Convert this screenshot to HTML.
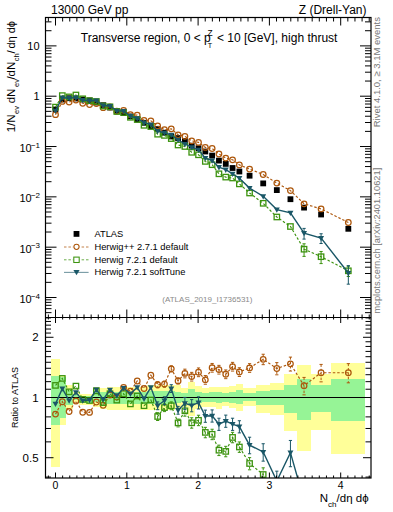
<!DOCTYPE html><html><head><meta charset="utf-8"><style>html,body{margin:0;padding:0;background:#fff;}svg{display:block;font-family:"Liberation Sans",sans-serif;}</style></head><body><svg width="393" height="512" viewBox="0 0 393 512"><defs><clipPath id="cm"><rect x="45.5" y="17.5" width="325.5" height="300"/></clipPath><clipPath id="cr"><rect x="45.5" y="317.5" width="325.5" height="160.5"/></clipPath></defs><rect width="393" height="512" fill="#fff"/><rect x="51.07" y="359.00" width="8.51" height="108.00" fill="#ffff99" shape-rendering="crispEdges"/><rect x="59.59" y="376.00" width="6.13" height="48.70" fill="#ffff99" shape-rendering="crispEdges"/><rect x="65.71" y="385.10" width="6.81" height="24.20" fill="#ffff99" shape-rendering="crispEdges"/><rect x="72.52" y="392.00" width="6.81" height="10.00" fill="#ffff99" shape-rendering="crispEdges"/><rect x="79.33" y="394.00" width="6.81" height="10.80" fill="#ffff99" shape-rendering="crispEdges"/><rect x="86.14" y="394.00" width="6.81" height="10.80" fill="#ffff99" shape-rendering="crispEdges"/><rect x="92.95" y="387.00" width="6.81" height="20.40" fill="#ffff99" shape-rendering="crispEdges"/><rect x="99.76" y="388.00" width="6.81" height="21.30" fill="#ffff99" shape-rendering="crispEdges"/><rect x="106.57" y="387.00" width="6.81" height="22.90" fill="#ffff99" shape-rendering="crispEdges"/><rect x="113.38" y="386.70" width="6.81" height="23.60" fill="#ffff99" shape-rendering="crispEdges"/><rect x="120.19" y="386.70" width="6.81" height="23.60" fill="#ffff99" shape-rendering="crispEdges"/><rect x="127.00" y="386.70" width="6.81" height="23.60" fill="#ffff99" shape-rendering="crispEdges"/><rect x="133.81" y="386.70" width="6.81" height="23.60" fill="#ffff99" shape-rendering="crispEdges"/><rect x="140.62" y="386.70" width="6.81" height="23.60" fill="#ffff99" shape-rendering="crispEdges"/><rect x="147.43" y="384.50" width="6.81" height="25.00" fill="#ffff99" shape-rendering="crispEdges"/><rect x="154.24" y="384.50" width="6.81" height="25.00" fill="#ffff99" shape-rendering="crispEdges"/><rect x="161.05" y="384.50" width="6.81" height="25.00" fill="#ffff99" shape-rendering="crispEdges"/><rect x="167.86" y="384.50" width="6.81" height="25.00" fill="#ffff99" shape-rendering="crispEdges"/><rect x="174.67" y="385.30" width="6.81" height="22.40" fill="#ffff99" shape-rendering="crispEdges"/><rect x="181.48" y="387.60" width="6.81" height="19.10" fill="#ffff99" shape-rendering="crispEdges"/><rect x="188.29" y="381.90" width="6.81" height="34.40" fill="#ffff99" shape-rendering="crispEdges"/><rect x="195.10" y="385.70" width="6.81" height="22.90" fill="#ffff99" shape-rendering="crispEdges"/><rect x="201.91" y="387.60" width="6.81" height="19.10" fill="#ffff99" shape-rendering="crispEdges"/><rect x="208.72" y="386.70" width="6.81" height="20.00" fill="#ffff99" shape-rendering="crispEdges"/><rect x="215.53" y="386.70" width="6.81" height="21.90" fill="#ffff99" shape-rendering="crispEdges"/><rect x="222.34" y="386.70" width="6.81" height="19.10" fill="#ffff99" shape-rendering="crispEdges"/><rect x="229.15" y="385.70" width="6.81" height="22.60" fill="#ffff99" shape-rendering="crispEdges"/><rect x="235.96" y="383.80" width="6.81" height="26.70" fill="#ffff99" shape-rendering="crispEdges"/><rect x="242.77" y="387.60" width="13.62" height="18.20" fill="#ffff99" shape-rendering="crispEdges"/><rect x="256.39" y="385.10" width="13.62" height="27.60" fill="#ffff99" shape-rendering="crispEdges"/><rect x="270.01" y="383.20" width="13.62" height="31.50" fill="#ffff99" shape-rendering="crispEdges"/><rect x="283.63" y="374.30" width="13.62" height="56.30" fill="#ffff99" shape-rendering="crispEdges"/><rect x="297.25" y="365.10" width="13.62" height="85.60" fill="#ffff99" shape-rendering="crispEdges"/><rect x="310.87" y="374.40" width="20.43" height="55.40" fill="#ffff99" shape-rendering="crispEdges"/><rect x="331.30" y="363.20" width="34.05" height="90.30" fill="#ffff99" shape-rendering="crispEdges"/><rect x="51.07" y="376.30" width="8.51" height="48.80" fill="#96f496" shape-rendering="crispEdges"/><rect x="59.59" y="377.00" width="6.13" height="41.00" fill="#96f496" shape-rendering="crispEdges"/><rect x="65.71" y="389.50" width="6.81" height="15.90" fill="#96f496" shape-rendering="crispEdges"/><rect x="72.52" y="394.00" width="6.81" height="6.00" fill="#96f496" shape-rendering="crispEdges"/><rect x="79.33" y="395.90" width="6.81" height="7.00" fill="#96f496" shape-rendering="crispEdges"/><rect x="86.14" y="395.90" width="6.81" height="7.00" fill="#96f496" shape-rendering="crispEdges"/><rect x="92.95" y="392.00" width="6.81" height="10.30" fill="#96f496" shape-rendering="crispEdges"/><rect x="99.76" y="392.00" width="6.81" height="12.80" fill="#96f496" shape-rendering="crispEdges"/><rect x="106.57" y="390.80" width="6.81" height="12.70" fill="#96f496" shape-rendering="crispEdges"/><rect x="113.38" y="392.40" width="6.81" height="11.50" fill="#96f496" shape-rendering="crispEdges"/><rect x="120.19" y="392.40" width="6.81" height="11.50" fill="#96f496" shape-rendering="crispEdges"/><rect x="127.00" y="392.40" width="6.81" height="11.50" fill="#96f496" shape-rendering="crispEdges"/><rect x="133.81" y="392.40" width="6.81" height="11.50" fill="#96f496" shape-rendering="crispEdges"/><rect x="140.62" y="392.40" width="6.81" height="11.50" fill="#96f496" shape-rendering="crispEdges"/><rect x="147.43" y="390.50" width="6.81" height="13.00" fill="#96f496" shape-rendering="crispEdges"/><rect x="154.24" y="390.50" width="6.81" height="13.00" fill="#96f496" shape-rendering="crispEdges"/><rect x="161.05" y="390.50" width="6.81" height="13.00" fill="#96f496" shape-rendering="crispEdges"/><rect x="167.86" y="390.50" width="6.81" height="13.00" fill="#96f496" shape-rendering="crispEdges"/><rect x="174.67" y="391.50" width="6.81" height="11.40" fill="#96f496" shape-rendering="crispEdges"/><rect x="181.48" y="393.40" width="6.81" height="8.60" fill="#96f496" shape-rendering="crispEdges"/><rect x="188.29" y="388.60" width="6.81" height="15.30" fill="#96f496" shape-rendering="crispEdges"/><rect x="195.10" y="391.50" width="6.81" height="11.40" fill="#96f496" shape-rendering="crispEdges"/><rect x="201.91" y="393.40" width="6.81" height="8.60" fill="#96f496" shape-rendering="crispEdges"/><rect x="208.72" y="392.40" width="6.81" height="9.60" fill="#96f496" shape-rendering="crispEdges"/><rect x="215.53" y="392.20" width="6.81" height="10.70" fill="#96f496" shape-rendering="crispEdges"/><rect x="222.34" y="393.00" width="6.81" height="9.00" fill="#96f496" shape-rendering="crispEdges"/><rect x="229.15" y="391.80" width="6.81" height="11.10" fill="#96f496" shape-rendering="crispEdges"/><rect x="235.96" y="389.50" width="6.81" height="14.40" fill="#96f496" shape-rendering="crispEdges"/><rect x="242.77" y="393.40" width="13.62" height="7.60" fill="#96f496" shape-rendering="crispEdges"/><rect x="256.39" y="391.00" width="13.62" height="14.00" fill="#96f496" shape-rendering="crispEdges"/><rect x="270.01" y="390.20" width="13.62" height="14.60" fill="#96f496" shape-rendering="crispEdges"/><rect x="283.63" y="385.10" width="13.62" height="27.60" fill="#96f496" shape-rendering="crispEdges"/><rect x="297.25" y="379.10" width="13.62" height="41.00" fill="#96f496" shape-rendering="crispEdges"/><rect x="310.87" y="385.00" width="20.43" height="27.20" fill="#96f496" shape-rendering="crispEdges"/><rect x="331.30" y="379.00" width="34.05" height="42.10" fill="#96f496" shape-rendering="crispEdges"/><line x1="45.5" y1="397.5" x2="371.0" y2="397.5" stroke="#000" stroke-width="1.2"/><g clip-path="url(#cm)"><rect x="52.60" y="106.60" width="5.8" height="5.8" fill="#000"/><rect x="59.41" y="96.60" width="5.8" height="5.8" fill="#000"/><rect x="66.22" y="95.30" width="5.8" height="5.8" fill="#000"/><rect x="73.03" y="95.60" width="5.8" height="5.8" fill="#000"/><rect x="79.84" y="96.60" width="5.8" height="5.8" fill="#000"/><rect x="86.65" y="97.50" width="5.8" height="5.8" fill="#000"/><rect x="93.46" y="99.60" width="5.8" height="5.8" fill="#000"/><rect x="100.27" y="102.30" width="5.8" height="5.8" fill="#000"/><rect x="107.08" y="104.60" width="5.8" height="5.8" fill="#000"/><rect x="113.89" y="108.30" width="5.8" height="5.8" fill="#000"/><rect x="120.70" y="110.10" width="5.8" height="5.8" fill="#000"/><rect x="127.51" y="113.50" width="5.8" height="5.8" fill="#000"/><rect x="134.32" y="116.70" width="5.8" height="5.8" fill="#000"/><rect x="141.13" y="119.90" width="5.8" height="5.8" fill="#000"/><rect x="147.94" y="123.60" width="5.8" height="5.8" fill="#000"/><rect x="154.75" y="126.20" width="5.8" height="5.8" fill="#000"/><rect x="161.56" y="129.80" width="5.8" height="5.8" fill="#000"/><rect x="168.37" y="133.60" width="5.8" height="5.8" fill="#000"/><rect x="175.18" y="135.20" width="5.8" height="5.8" fill="#000"/><rect x="181.99" y="138.10" width="5.8" height="5.8" fill="#000"/><rect x="188.80" y="142.80" width="5.8" height="5.8" fill="#000"/><rect x="195.61" y="145.30" width="5.8" height="5.8" fill="#000"/><rect x="202.42" y="148.60" width="5.8" height="5.8" fill="#000"/><rect x="209.23" y="152.70" width="5.8" height="5.8" fill="#000"/><rect x="216.04" y="157.70" width="5.8" height="5.8" fill="#000"/><rect x="222.85" y="161.00" width="5.8" height="5.8" fill="#000"/><rect x="229.66" y="165.10" width="5.8" height="5.8" fill="#000"/><rect x="236.47" y="168.60" width="5.8" height="5.8" fill="#000"/><rect x="246.68" y="172.80" width="5.8" height="5.8" fill="#000"/><rect x="260.30" y="180.50" width="5.8" height="5.8" fill="#000"/><rect x="273.92" y="187.20" width="5.8" height="5.8" fill="#000"/><rect x="287.54" y="196.30" width="5.8" height="5.8" fill="#000"/><rect x="301.16" y="204.70" width="5.8" height="5.8" fill="#000"/><rect x="318.19" y="211.60" width="5.8" height="5.8" fill="#000"/><rect x="345.43" y="225.90" width="5.8" height="5.8" fill="#000"/><path d="M55.50 114.70 L62.31 101.40 L69.12 102.00 L75.93 100.10 L82.74 103.30 L89.55 104.50 L96.36 103.50 L103.17 107.70 L109.98 107.00 L116.79 111.20 L123.60 110.30 L130.41 114.70 L137.22 115.10 L144.03 120.40 L150.84 120.80 L157.65 125.90 L164.46 129.70 L171.27 128.80 L178.08 134.80 L184.89 136.30 L191.70 140.80 L198.51 142.40 L205.32 147.40 L212.13 148.50 L218.94 154.00 L225.75 158.10 L232.56 159.80 L239.37 164.90 L249.58 169.10 L263.20 174.50 L276.82 183.10 L290.44 190.60 L304.06 203.80 L321.09 208.90 L348.33 222.50" fill="none" stroke="#ad570c" stroke-width="1.15" stroke-dasharray="2.5 1.9"/><circle cx="55.50" cy="114.70" r="2.8" fill="none" stroke="#ad570c" stroke-width="1.25"/><circle cx="62.31" cy="101.40" r="2.8" fill="none" stroke="#ad570c" stroke-width="1.25"/><circle cx="69.12" cy="102.00" r="2.8" fill="none" stroke="#ad570c" stroke-width="1.25"/><circle cx="75.93" cy="100.10" r="2.8" fill="none" stroke="#ad570c" stroke-width="1.25"/><circle cx="82.74" cy="103.30" r="2.8" fill="none" stroke="#ad570c" stroke-width="1.25"/><circle cx="89.55" cy="104.50" r="2.8" fill="none" stroke="#ad570c" stroke-width="1.25"/><circle cx="96.36" cy="103.50" r="2.8" fill="none" stroke="#ad570c" stroke-width="1.25"/><circle cx="103.17" cy="107.70" r="2.8" fill="none" stroke="#ad570c" stroke-width="1.25"/><circle cx="109.98" cy="107.00" r="2.8" fill="none" stroke="#ad570c" stroke-width="1.25"/><circle cx="116.79" cy="111.20" r="2.8" fill="none" stroke="#ad570c" stroke-width="1.25"/><circle cx="123.60" cy="110.30" r="2.8" fill="none" stroke="#ad570c" stroke-width="1.25"/><circle cx="130.41" cy="114.70" r="2.8" fill="none" stroke="#ad570c" stroke-width="1.25"/><circle cx="137.22" cy="115.10" r="2.8" fill="none" stroke="#ad570c" stroke-width="1.25"/><circle cx="144.03" cy="120.40" r="2.8" fill="none" stroke="#ad570c" stroke-width="1.25"/><circle cx="150.84" cy="120.80" r="2.8" fill="none" stroke="#ad570c" stroke-width="1.25"/><circle cx="157.65" cy="125.90" r="2.8" fill="none" stroke="#ad570c" stroke-width="1.25"/><circle cx="164.46" cy="129.70" r="2.8" fill="none" stroke="#ad570c" stroke-width="1.25"/><circle cx="171.27" cy="128.80" r="2.8" fill="none" stroke="#ad570c" stroke-width="1.25"/><circle cx="178.08" cy="134.80" r="2.8" fill="none" stroke="#ad570c" stroke-width="1.25"/><circle cx="184.89" cy="136.30" r="2.8" fill="none" stroke="#ad570c" stroke-width="1.25"/><circle cx="191.70" cy="140.80" r="2.8" fill="none" stroke="#ad570c" stroke-width="1.25"/><circle cx="198.51" cy="142.40" r="2.8" fill="none" stroke="#ad570c" stroke-width="1.25"/><circle cx="205.32" cy="147.40" r="2.8" fill="none" stroke="#ad570c" stroke-width="1.25"/><circle cx="212.13" cy="148.50" r="2.8" fill="none" stroke="#ad570c" stroke-width="1.25"/><circle cx="218.94" cy="154.00" r="2.8" fill="none" stroke="#ad570c" stroke-width="1.25"/><circle cx="225.75" cy="158.10" r="2.8" fill="none" stroke="#ad570c" stroke-width="1.25"/><circle cx="232.56" cy="159.80" r="2.8" fill="none" stroke="#ad570c" stroke-width="1.25"/><circle cx="239.37" cy="164.90" r="2.8" fill="none" stroke="#ad570c" stroke-width="1.25"/><circle cx="249.58" cy="169.10" r="2.8" fill="none" stroke="#ad570c" stroke-width="1.25"/><circle cx="263.20" cy="174.50" r="2.8" fill="none" stroke="#ad570c" stroke-width="1.25"/><circle cx="276.82" cy="183.10" r="2.8" fill="none" stroke="#ad570c" stroke-width="1.25"/><circle cx="290.44" cy="190.60" r="2.8" fill="none" stroke="#ad570c" stroke-width="1.25"/><circle cx="304.06" cy="203.80" r="2.8" fill="none" stroke="#ad570c" stroke-width="1.25"/><circle cx="321.09" cy="208.90" r="2.8" fill="none" stroke="#ad570c" stroke-width="1.25"/><circle cx="348.33" cy="222.50" r="2.8" fill="none" stroke="#ad570c" stroke-width="1.25"/><path d="M55.50 107.10 L62.31 95.60 L69.12 96.90 L75.93 95.00 L82.74 98.80 L89.55 100.70 L96.36 101.50 L103.17 106.00 L109.98 106.80 L116.79 111.50 L123.60 112.50 L130.41 117.30 L137.22 119.50 L144.03 125.30 L150.84 126.50 L157.65 134.20 L164.46 135.40 L171.27 138.60 L178.08 145.00 L184.89 146.50 L191.70 152.30 L198.51 154.80 L205.32 161.40 L212.13 164.70 L218.94 173.80 L225.75 177.10 L232.56 178.00 L239.37 183.90 L249.58 193.00 L263.20 203.30 L276.82 217.00 L290.44 226.50 L304.06 249.20 L321.09 256.70 L348.33 270.80" fill="none" stroke="#3c930f" stroke-width="1.15" stroke-dasharray="2.5 1.9"/><path d="M304.06 243.80V256.38" stroke="#3c930f" stroke-width="1" fill="none"/><path d="M302.46 243.80h3.2M302.46 256.38h3.2" stroke="#3c930f" stroke-width="1" fill="none"/><path d="M321.09 251.48V263.58" stroke="#3c930f" stroke-width="1" fill="none"/><path d="M319.49 251.48h3.2M319.49 263.58h3.2" stroke="#3c930f" stroke-width="1" fill="none"/><path d="M348.33 266.28V276.51" stroke="#3c930f" stroke-width="1" fill="none"/><path d="M346.73 266.28h3.2M346.73 276.51h3.2" stroke="#3c930f" stroke-width="1" fill="none"/><rect x="52.80" y="104.40" width="5.4" height="5.4" fill="none" stroke="#3c930f" stroke-width="1.3"/><rect x="59.61" y="92.90" width="5.4" height="5.4" fill="none" stroke="#3c930f" stroke-width="1.3"/><rect x="66.42" y="94.20" width="5.4" height="5.4" fill="none" stroke="#3c930f" stroke-width="1.3"/><rect x="73.23" y="92.30" width="5.4" height="5.4" fill="none" stroke="#3c930f" stroke-width="1.3"/><rect x="80.04" y="96.10" width="5.4" height="5.4" fill="none" stroke="#3c930f" stroke-width="1.3"/><rect x="86.85" y="98.00" width="5.4" height="5.4" fill="none" stroke="#3c930f" stroke-width="1.3"/><rect x="93.66" y="98.80" width="5.4" height="5.4" fill="none" stroke="#3c930f" stroke-width="1.3"/><rect x="100.47" y="103.30" width="5.4" height="5.4" fill="none" stroke="#3c930f" stroke-width="1.3"/><rect x="107.28" y="104.10" width="5.4" height="5.4" fill="none" stroke="#3c930f" stroke-width="1.3"/><rect x="114.09" y="108.80" width="5.4" height="5.4" fill="none" stroke="#3c930f" stroke-width="1.3"/><rect x="120.90" y="109.80" width="5.4" height="5.4" fill="none" stroke="#3c930f" stroke-width="1.3"/><rect x="127.71" y="114.60" width="5.4" height="5.4" fill="none" stroke="#3c930f" stroke-width="1.3"/><rect x="134.52" y="116.80" width="5.4" height="5.4" fill="none" stroke="#3c930f" stroke-width="1.3"/><rect x="141.33" y="122.60" width="5.4" height="5.4" fill="none" stroke="#3c930f" stroke-width="1.3"/><rect x="148.14" y="123.80" width="5.4" height="5.4" fill="none" stroke="#3c930f" stroke-width="1.3"/><rect x="154.95" y="131.50" width="5.4" height="5.4" fill="none" stroke="#3c930f" stroke-width="1.3"/><rect x="161.76" y="132.70" width="5.4" height="5.4" fill="none" stroke="#3c930f" stroke-width="1.3"/><rect x="168.57" y="135.90" width="5.4" height="5.4" fill="none" stroke="#3c930f" stroke-width="1.3"/><rect x="175.38" y="142.30" width="5.4" height="5.4" fill="none" stroke="#3c930f" stroke-width="1.3"/><rect x="182.19" y="143.80" width="5.4" height="5.4" fill="none" stroke="#3c930f" stroke-width="1.3"/><rect x="189.00" y="149.60" width="5.4" height="5.4" fill="none" stroke="#3c930f" stroke-width="1.3"/><rect x="195.81" y="152.10" width="5.4" height="5.4" fill="none" stroke="#3c930f" stroke-width="1.3"/><rect x="202.62" y="158.70" width="5.4" height="5.4" fill="none" stroke="#3c930f" stroke-width="1.3"/><rect x="209.43" y="162.00" width="5.4" height="5.4" fill="none" stroke="#3c930f" stroke-width="1.3"/><rect x="216.24" y="171.10" width="5.4" height="5.4" fill="none" stroke="#3c930f" stroke-width="1.3"/><rect x="223.05" y="174.40" width="5.4" height="5.4" fill="none" stroke="#3c930f" stroke-width="1.3"/><rect x="229.86" y="175.30" width="5.4" height="5.4" fill="none" stroke="#3c930f" stroke-width="1.3"/><rect x="236.67" y="181.20" width="5.4" height="5.4" fill="none" stroke="#3c930f" stroke-width="1.3"/><rect x="246.88" y="190.30" width="5.4" height="5.4" fill="none" stroke="#3c930f" stroke-width="1.3"/><rect x="260.50" y="200.60" width="5.4" height="5.4" fill="none" stroke="#3c930f" stroke-width="1.3"/><rect x="274.12" y="214.30" width="5.4" height="5.4" fill="none" stroke="#3c930f" stroke-width="1.3"/><rect x="287.74" y="223.80" width="5.4" height="5.4" fill="none" stroke="#3c930f" stroke-width="1.3"/><rect x="301.36" y="246.50" width="5.4" height="5.4" fill="none" stroke="#3c930f" stroke-width="1.3"/><rect x="318.39" y="254.00" width="5.4" height="5.4" fill="none" stroke="#3c930f" stroke-width="1.3"/><rect x="345.63" y="268.10" width="5.4" height="5.4" fill="none" stroke="#3c930f" stroke-width="1.3"/><path d="M55.50 110.90 L62.31 97.50 L69.12 98.20 L75.93 97.50 L82.74 100.10 L89.55 100.70 L96.36 100.50 L103.17 105.50 L109.98 106.00 L116.79 110.90 L123.60 111.00 L130.41 116.00 L137.22 118.30 L144.03 122.70 L150.84 124.60 L157.65 131.00 L164.46 132.90 L171.27 134.80 L178.08 139.90 L184.89 144.00 L191.70 147.40 L198.51 149.80 L205.32 158.10 L212.13 160.60 L218.94 167.20 L225.75 169.70 L232.56 173.80 L239.37 178.20 L249.58 188.10 L263.20 196.30 L276.82 209.60 L290.44 212.80 L304.06 233.10 L321.09 238.10 L348.33 273.00" fill="none" stroke="#1a5767" stroke-width="1.4"/><path d="M304.06 228.40V239.10" stroke="#1a5767" stroke-width="1" fill="none"/><path d="M302.46 228.40h3.2M302.46 239.10h3.2" stroke="#1a5767" stroke-width="1" fill="none"/><path d="M321.09 233.75V243.53" stroke="#1a5767" stroke-width="1" fill="none"/><path d="M319.49 233.75h3.2M319.49 243.53h3.2" stroke="#1a5767" stroke-width="1" fill="none"/><path d="M348.33 265.65V284.16" stroke="#1a5767" stroke-width="1" fill="none"/><path d="M346.73 265.65h3.2M346.73 284.16h3.2" stroke="#1a5767" stroke-width="1" fill="none"/><path d="M52.50 108.80h6l-3 5.3z" fill="#1a5767"/><path d="M59.31 95.40h6l-3 5.3z" fill="#1a5767"/><path d="M66.12 96.10h6l-3 5.3z" fill="#1a5767"/><path d="M72.93 95.40h6l-3 5.3z" fill="#1a5767"/><path d="M79.74 98.00h6l-3 5.3z" fill="#1a5767"/><path d="M86.55 98.60h6l-3 5.3z" fill="#1a5767"/><path d="M93.36 98.40h6l-3 5.3z" fill="#1a5767"/><path d="M100.17 103.40h6l-3 5.3z" fill="#1a5767"/><path d="M106.98 103.90h6l-3 5.3z" fill="#1a5767"/><path d="M113.79 108.80h6l-3 5.3z" fill="#1a5767"/><path d="M120.60 108.90h6l-3 5.3z" fill="#1a5767"/><path d="M127.41 113.90h6l-3 5.3z" fill="#1a5767"/><path d="M134.22 116.20h6l-3 5.3z" fill="#1a5767"/><path d="M141.03 120.60h6l-3 5.3z" fill="#1a5767"/><path d="M147.84 122.50h6l-3 5.3z" fill="#1a5767"/><path d="M154.65 128.90h6l-3 5.3z" fill="#1a5767"/><path d="M161.46 130.80h6l-3 5.3z" fill="#1a5767"/><path d="M168.27 132.70h6l-3 5.3z" fill="#1a5767"/><path d="M175.08 137.80h6l-3 5.3z" fill="#1a5767"/><path d="M181.89 141.90h6l-3 5.3z" fill="#1a5767"/><path d="M188.70 145.30h6l-3 5.3z" fill="#1a5767"/><path d="M195.51 147.70h6l-3 5.3z" fill="#1a5767"/><path d="M202.32 156.00h6l-3 5.3z" fill="#1a5767"/><path d="M209.13 158.50h6l-3 5.3z" fill="#1a5767"/><path d="M215.94 165.10h6l-3 5.3z" fill="#1a5767"/><path d="M222.75 167.60h6l-3 5.3z" fill="#1a5767"/><path d="M229.56 171.70h6l-3 5.3z" fill="#1a5767"/><path d="M236.37 176.10h6l-3 5.3z" fill="#1a5767"/><path d="M246.58 186.00h6l-3 5.3z" fill="#1a5767"/><path d="M260.20 194.20h6l-3 5.3z" fill="#1a5767"/><path d="M273.82 207.50h6l-3 5.3z" fill="#1a5767"/><path d="M287.44 210.70h6l-3 5.3z" fill="#1a5767"/><path d="M301.06 231.00h6l-3 5.3z" fill="#1a5767"/><path d="M318.09 236.00h6l-3 5.3z" fill="#1a5767"/><path d="M345.33 270.90h6l-3 5.3z" fill="#1a5767"/></g><g clip-path="url(#cr)"><path d="M55.50 414.10 L62.31 401.70 L69.12 411.50 L75.93 401.00 L82.74 412.20 L89.55 412.40 L96.36 402.00 L103.17 405.20 L109.98 395.00 L116.79 397.00 L123.60 387.40 L130.41 391.20 L137.22 381.00 L144.03 388.50 L150.84 375.20 L157.65 384.70 L164.46 384.10 L171.27 368.80 L178.08 380.90 L184.89 373.40 L191.70 376.60 L198.51 372.20 L205.32 379.80 L212.13 367.70 L218.94 369.60 L225.75 374.20 L232.56 366.60 L239.37 372.00 L249.58 367.90 L263.20 359.30 L276.82 368.50 L290.44 363.80 L304.06 385.70 L321.09 372.70 L348.33 372.70" fill="none" stroke="#ad570c" stroke-width="1.15" stroke-dasharray="2.5 1.9"/><path d="M157.65 381.71V387.79" stroke="#ad570c" stroke-width="1" stroke-dasharray="2.5 1.9" fill="none"/><path d="M156.05 381.71h3.2M156.05 387.79h3.2" stroke="#ad570c" stroke-width="1" fill="none"/><path d="M164.46 381.11V387.19" stroke="#ad570c" stroke-width="1" stroke-dasharray="2.5 1.9" fill="none"/><path d="M162.86 381.11h3.2M162.86 387.19h3.2" stroke="#ad570c" stroke-width="1" fill="none"/><path d="M171.27 365.81V371.89" stroke="#ad570c" stroke-width="1" stroke-dasharray="2.5 1.9" fill="none"/><path d="M169.67 365.81h3.2M169.67 371.89h3.2" stroke="#ad570c" stroke-width="1" fill="none"/><path d="M178.08 377.91V383.99" stroke="#ad570c" stroke-width="1" stroke-dasharray="2.5 1.9" fill="none"/><path d="M176.48 377.91h3.2M176.48 383.99h3.2" stroke="#ad570c" stroke-width="1" fill="none"/><path d="M184.89 369.16V377.86" stroke="#ad570c" stroke-width="1" stroke-dasharray="2.5 1.9" fill="none"/><path d="M183.29 369.16h3.2M183.29 377.86h3.2" stroke="#ad570c" stroke-width="1" fill="none"/><path d="M191.70 372.36V381.06" stroke="#ad570c" stroke-width="1" stroke-dasharray="2.5 1.9" fill="none"/><path d="M190.10 372.36h3.2M190.10 381.06h3.2" stroke="#ad570c" stroke-width="1" fill="none"/><path d="M198.51 367.96V376.66" stroke="#ad570c" stroke-width="1" stroke-dasharray="2.5 1.9" fill="none"/><path d="M196.91 367.96h3.2M196.91 376.66h3.2" stroke="#ad570c" stroke-width="1" fill="none"/><path d="M205.32 375.56V384.26" stroke="#ad570c" stroke-width="1" stroke-dasharray="2.5 1.9" fill="none"/><path d="M203.72 375.56h3.2M203.72 384.26h3.2" stroke="#ad570c" stroke-width="1" fill="none"/><path d="M212.13 363.46V372.16" stroke="#ad570c" stroke-width="1" stroke-dasharray="2.5 1.9" fill="none"/><path d="M210.53 363.46h3.2M210.53 372.16h3.2" stroke="#ad570c" stroke-width="1" fill="none"/><path d="M218.94 365.36V374.06" stroke="#ad570c" stroke-width="1" stroke-dasharray="2.5 1.9" fill="none"/><path d="M217.34 365.36h3.2M217.34 374.06h3.2" stroke="#ad570c" stroke-width="1" fill="none"/><path d="M225.75 369.96V378.66" stroke="#ad570c" stroke-width="1" stroke-dasharray="2.5 1.9" fill="none"/><path d="M224.15 369.96h3.2M224.15 378.66h3.2" stroke="#ad570c" stroke-width="1" fill="none"/><path d="M232.56 362.36V371.06" stroke="#ad570c" stroke-width="1" stroke-dasharray="2.5 1.9" fill="none"/><path d="M230.96 362.36h3.2M230.96 371.06h3.2" stroke="#ad570c" stroke-width="1" fill="none"/><path d="M239.37 367.76V376.46" stroke="#ad570c" stroke-width="1" stroke-dasharray="2.5 1.9" fill="none"/><path d="M237.77 367.76h3.2M237.77 376.46h3.2" stroke="#ad570c" stroke-width="1" fill="none"/><path d="M249.58 363.66V372.36" stroke="#ad570c" stroke-width="1" stroke-dasharray="2.5 1.9" fill="none"/><path d="M247.98 363.66h3.2M247.98 372.36h3.2" stroke="#ad570c" stroke-width="1" fill="none"/><path d="M263.20 354.24V364.67" stroke="#ad570c" stroke-width="1" stroke-dasharray="2.5 1.9" fill="none"/><path d="M261.60 354.24h3.2M261.60 364.67h3.2" stroke="#ad570c" stroke-width="1" fill="none"/><path d="M276.82 362.62V374.80" stroke="#ad570c" stroke-width="1" stroke-dasharray="2.5 1.9" fill="none"/><path d="M275.22 362.62h3.2M275.22 374.80h3.2" stroke="#ad570c" stroke-width="1" fill="none"/><path d="M290.44 357.12V371.04" stroke="#ad570c" stroke-width="1" stroke-dasharray="2.5 1.9" fill="none"/><path d="M288.84 357.12h3.2M288.84 371.04h3.2" stroke="#ad570c" stroke-width="1" fill="none"/><path d="M304.06 377.42V394.85" stroke="#ad570c" stroke-width="1" stroke-dasharray="2.5 1.9" fill="none"/><path d="M302.46 377.42h3.2M302.46 394.85h3.2" stroke="#ad570c" stroke-width="1" fill="none"/><path d="M321.09 364.42V381.85" stroke="#ad570c" stroke-width="1" stroke-dasharray="2.5 1.9" fill="none"/><path d="M319.49 364.42h3.2M319.49 381.85h3.2" stroke="#ad570c" stroke-width="1" fill="none"/><path d="M348.33 363.64V382.82" stroke="#ad570c" stroke-width="1" stroke-dasharray="2.5 1.9" fill="none"/><path d="M346.73 363.64h3.2M346.73 382.82h3.2" stroke="#ad570c" stroke-width="1" fill="none"/><circle cx="55.50" cy="414.10" r="2.8" fill="none" stroke="#ad570c" stroke-width="1.25"/><circle cx="62.31" cy="401.70" r="2.8" fill="none" stroke="#ad570c" stroke-width="1.25"/><circle cx="69.12" cy="411.50" r="2.8" fill="none" stroke="#ad570c" stroke-width="1.25"/><circle cx="75.93" cy="401.00" r="2.8" fill="none" stroke="#ad570c" stroke-width="1.25"/><circle cx="82.74" cy="412.20" r="2.8" fill="none" stroke="#ad570c" stroke-width="1.25"/><circle cx="89.55" cy="412.40" r="2.8" fill="none" stroke="#ad570c" stroke-width="1.25"/><circle cx="96.36" cy="402.00" r="2.8" fill="none" stroke="#ad570c" stroke-width="1.25"/><circle cx="103.17" cy="405.20" r="2.8" fill="none" stroke="#ad570c" stroke-width="1.25"/><circle cx="109.98" cy="395.00" r="2.8" fill="none" stroke="#ad570c" stroke-width="1.25"/><circle cx="116.79" cy="397.00" r="2.8" fill="none" stroke="#ad570c" stroke-width="1.25"/><circle cx="123.60" cy="387.40" r="2.8" fill="none" stroke="#ad570c" stroke-width="1.25"/><circle cx="130.41" cy="391.20" r="2.8" fill="none" stroke="#ad570c" stroke-width="1.25"/><circle cx="137.22" cy="381.00" r="2.8" fill="none" stroke="#ad570c" stroke-width="1.25"/><circle cx="144.03" cy="388.50" r="2.8" fill="none" stroke="#ad570c" stroke-width="1.25"/><circle cx="150.84" cy="375.20" r="2.8" fill="none" stroke="#ad570c" stroke-width="1.25"/><circle cx="157.65" cy="384.70" r="2.8" fill="none" stroke="#ad570c" stroke-width="1.25"/><circle cx="164.46" cy="384.10" r="2.8" fill="none" stroke="#ad570c" stroke-width="1.25"/><circle cx="171.27" cy="368.80" r="2.8" fill="none" stroke="#ad570c" stroke-width="1.25"/><circle cx="178.08" cy="380.90" r="2.8" fill="none" stroke="#ad570c" stroke-width="1.25"/><circle cx="184.89" cy="373.40" r="2.8" fill="none" stroke="#ad570c" stroke-width="1.25"/><circle cx="191.70" cy="376.60" r="2.8" fill="none" stroke="#ad570c" stroke-width="1.25"/><circle cx="198.51" cy="372.20" r="2.8" fill="none" stroke="#ad570c" stroke-width="1.25"/><circle cx="205.32" cy="379.80" r="2.8" fill="none" stroke="#ad570c" stroke-width="1.25"/><circle cx="212.13" cy="367.70" r="2.8" fill="none" stroke="#ad570c" stroke-width="1.25"/><circle cx="218.94" cy="369.60" r="2.8" fill="none" stroke="#ad570c" stroke-width="1.25"/><circle cx="225.75" cy="374.20" r="2.8" fill="none" stroke="#ad570c" stroke-width="1.25"/><circle cx="232.56" cy="366.60" r="2.8" fill="none" stroke="#ad570c" stroke-width="1.25"/><circle cx="239.37" cy="372.00" r="2.8" fill="none" stroke="#ad570c" stroke-width="1.25"/><circle cx="249.58" cy="367.90" r="2.8" fill="none" stroke="#ad570c" stroke-width="1.25"/><circle cx="263.20" cy="359.30" r="2.8" fill="none" stroke="#ad570c" stroke-width="1.25"/><circle cx="276.82" cy="368.50" r="2.8" fill="none" stroke="#ad570c" stroke-width="1.25"/><circle cx="290.44" cy="363.80" r="2.8" fill="none" stroke="#ad570c" stroke-width="1.25"/><circle cx="304.06" cy="385.70" r="2.8" fill="none" stroke="#ad570c" stroke-width="1.25"/><circle cx="321.09" cy="372.70" r="2.8" fill="none" stroke="#ad570c" stroke-width="1.25"/><circle cx="348.33" cy="372.70" r="2.8" fill="none" stroke="#ad570c" stroke-width="1.25"/><path d="M55.50 385.40 L62.31 378.40 L69.12 391.80 L75.93 386.10 L82.74 399.40 L89.55 400.50 L96.36 390.80 L103.17 402.60 L109.98 393.70 L116.79 400.10 L123.60 393.70 L130.41 403.90 L137.22 396.00 L144.03 405.70 L150.84 400.00 L157.65 416.50 L164.46 407.60 L171.27 405.70 L178.08 422.90 L184.89 410.80 L191.70 422.80 L198.51 420.30 L205.32 432.40 L212.13 434.30 L218.94 450.20 L225.75 451.40 L232.56 437.40 L239.37 447.00 L249.58 463.50 L263.20 474.50 L276.82 504.00 L290.44 535.00 L304.06 560.00 L321.09 570.00 L348.33 580.00" fill="none" stroke="#3c930f" stroke-width="1.15" stroke-dasharray="2.5 1.9"/><path d="M157.65 412.68V420.50" stroke="#3c930f" stroke-width="1" stroke-dasharray="2.5 1.9" fill="none"/><path d="M156.05 412.68h3.2M156.05 420.50h3.2" stroke="#3c930f" stroke-width="1" fill="none"/><path d="M164.46 403.78V411.60" stroke="#3c930f" stroke-width="1" stroke-dasharray="2.5 1.9" fill="none"/><path d="M162.86 403.78h3.2M162.86 411.60h3.2" stroke="#3c930f" stroke-width="1" fill="none"/><path d="M171.27 401.88V409.70" stroke="#3c930f" stroke-width="1" stroke-dasharray="2.5 1.9" fill="none"/><path d="M169.67 401.88h3.2M169.67 409.70h3.2" stroke="#3c930f" stroke-width="1" fill="none"/><path d="M178.08 419.08V426.90" stroke="#3c930f" stroke-width="1" stroke-dasharray="2.5 1.9" fill="none"/><path d="M176.48 419.08h3.2M176.48 426.90h3.2" stroke="#3c930f" stroke-width="1" fill="none"/><path d="M184.89 405.74V416.17" stroke="#3c930f" stroke-width="1" stroke-dasharray="2.5 1.9" fill="none"/><path d="M183.29 405.74h3.2M183.29 416.17h3.2" stroke="#3c930f" stroke-width="1" fill="none"/><path d="M191.70 417.74V428.17" stroke="#3c930f" stroke-width="1" stroke-dasharray="2.5 1.9" fill="none"/><path d="M190.10 417.74h3.2M190.10 428.17h3.2" stroke="#3c930f" stroke-width="1" fill="none"/><path d="M198.51 415.24V425.67" stroke="#3c930f" stroke-width="1" stroke-dasharray="2.5 1.9" fill="none"/><path d="M196.91 415.24h3.2M196.91 425.67h3.2" stroke="#3c930f" stroke-width="1" fill="none"/><path d="M205.32 427.34V437.77" stroke="#3c930f" stroke-width="1" stroke-dasharray="2.5 1.9" fill="none"/><path d="M203.72 427.34h3.2M203.72 437.77h3.2" stroke="#3c930f" stroke-width="1" fill="none"/><path d="M212.13 429.24V439.67" stroke="#3c930f" stroke-width="1" stroke-dasharray="2.5 1.9" fill="none"/><path d="M210.53 429.24h3.2M210.53 439.67h3.2" stroke="#3c930f" stroke-width="1" fill="none"/><path d="M218.94 445.14V455.57" stroke="#3c930f" stroke-width="1" stroke-dasharray="2.5 1.9" fill="none"/><path d="M217.34 445.14h3.2M217.34 455.57h3.2" stroke="#3c930f" stroke-width="1" fill="none"/><path d="M225.75 446.34V456.77" stroke="#3c930f" stroke-width="1" stroke-dasharray="2.5 1.9" fill="none"/><path d="M224.15 446.34h3.2M224.15 456.77h3.2" stroke="#3c930f" stroke-width="1" fill="none"/><path d="M232.56 432.34V442.77" stroke="#3c930f" stroke-width="1" stroke-dasharray="2.5 1.9" fill="none"/><path d="M230.96 432.34h3.2M230.96 442.77h3.2" stroke="#3c930f" stroke-width="1" fill="none"/><path d="M239.37 441.94V452.37" stroke="#3c930f" stroke-width="1" stroke-dasharray="2.5 1.9" fill="none"/><path d="M237.77 441.94h3.2M237.77 452.37h3.2" stroke="#3c930f" stroke-width="1" fill="none"/><path d="M249.58 457.62V469.80" stroke="#3c930f" stroke-width="1" stroke-dasharray="2.5 1.9" fill="none"/><path d="M247.98 457.62h3.2M247.98 469.80h3.2" stroke="#3c930f" stroke-width="1" fill="none"/><path d="M263.20 467.82V481.74" stroke="#3c930f" stroke-width="1" stroke-dasharray="2.5 1.9" fill="none"/><path d="M261.60 467.82h3.2M261.60 481.74h3.2" stroke="#3c930f" stroke-width="1" fill="none"/><path d="M276.82 495.72V513.15" stroke="#3c930f" stroke-width="1" stroke-dasharray="2.5 1.9" fill="none"/><path d="M275.22 495.72h3.2M275.22 513.15h3.2" stroke="#3c930f" stroke-width="1" fill="none"/><path d="M290.44 525.16V546.10" stroke="#3c930f" stroke-width="1" stroke-dasharray="2.5 1.9" fill="none"/><path d="M288.84 525.16h3.2M288.84 546.10h3.2" stroke="#3c930f" stroke-width="1" fill="none"/><path d="M304.06 538.56V588.53" stroke="#3c930f" stroke-width="1" stroke-dasharray="2.5 1.9" fill="none"/><path d="M302.46 538.56h3.2M302.46 588.53h3.2" stroke="#3c930f" stroke-width="1" fill="none"/><path d="M321.09 549.24V597.34" stroke="#3c930f" stroke-width="1" stroke-dasharray="2.5 1.9" fill="none"/><path d="M319.49 549.24h3.2M319.49 597.34h3.2" stroke="#3c930f" stroke-width="1" fill="none"/><path d="M348.33 562.02V602.70" stroke="#3c930f" stroke-width="1" stroke-dasharray="2.5 1.9" fill="none"/><path d="M346.73 562.02h3.2M346.73 602.70h3.2" stroke="#3c930f" stroke-width="1" fill="none"/><rect x="52.80" y="382.70" width="5.4" height="5.4" fill="none" stroke="#3c930f" stroke-width="1.3"/><rect x="59.61" y="375.70" width="5.4" height="5.4" fill="none" stroke="#3c930f" stroke-width="1.3"/><rect x="66.42" y="389.10" width="5.4" height="5.4" fill="none" stroke="#3c930f" stroke-width="1.3"/><rect x="73.23" y="383.40" width="5.4" height="5.4" fill="none" stroke="#3c930f" stroke-width="1.3"/><rect x="80.04" y="396.70" width="5.4" height="5.4" fill="none" stroke="#3c930f" stroke-width="1.3"/><rect x="86.85" y="397.80" width="5.4" height="5.4" fill="none" stroke="#3c930f" stroke-width="1.3"/><rect x="93.66" y="388.10" width="5.4" height="5.4" fill="none" stroke="#3c930f" stroke-width="1.3"/><rect x="100.47" y="399.90" width="5.4" height="5.4" fill="none" stroke="#3c930f" stroke-width="1.3"/><rect x="107.28" y="391.00" width="5.4" height="5.4" fill="none" stroke="#3c930f" stroke-width="1.3"/><rect x="114.09" y="397.40" width="5.4" height="5.4" fill="none" stroke="#3c930f" stroke-width="1.3"/><rect x="120.90" y="391.00" width="5.4" height="5.4" fill="none" stroke="#3c930f" stroke-width="1.3"/><rect x="127.71" y="401.20" width="5.4" height="5.4" fill="none" stroke="#3c930f" stroke-width="1.3"/><rect x="134.52" y="393.30" width="5.4" height="5.4" fill="none" stroke="#3c930f" stroke-width="1.3"/><rect x="141.33" y="403.00" width="5.4" height="5.4" fill="none" stroke="#3c930f" stroke-width="1.3"/><rect x="148.14" y="397.30" width="5.4" height="5.4" fill="none" stroke="#3c930f" stroke-width="1.3"/><rect x="154.95" y="413.80" width="5.4" height="5.4" fill="none" stroke="#3c930f" stroke-width="1.3"/><rect x="161.76" y="404.90" width="5.4" height="5.4" fill="none" stroke="#3c930f" stroke-width="1.3"/><rect x="168.57" y="403.00" width="5.4" height="5.4" fill="none" stroke="#3c930f" stroke-width="1.3"/><rect x="175.38" y="420.20" width="5.4" height="5.4" fill="none" stroke="#3c930f" stroke-width="1.3"/><rect x="182.19" y="408.10" width="5.4" height="5.4" fill="none" stroke="#3c930f" stroke-width="1.3"/><rect x="189.00" y="420.10" width="5.4" height="5.4" fill="none" stroke="#3c930f" stroke-width="1.3"/><rect x="195.81" y="417.60" width="5.4" height="5.4" fill="none" stroke="#3c930f" stroke-width="1.3"/><rect x="202.62" y="429.70" width="5.4" height="5.4" fill="none" stroke="#3c930f" stroke-width="1.3"/><rect x="209.43" y="431.60" width="5.4" height="5.4" fill="none" stroke="#3c930f" stroke-width="1.3"/><rect x="216.24" y="447.50" width="5.4" height="5.4" fill="none" stroke="#3c930f" stroke-width="1.3"/><rect x="223.05" y="448.70" width="5.4" height="5.4" fill="none" stroke="#3c930f" stroke-width="1.3"/><rect x="229.86" y="434.70" width="5.4" height="5.4" fill="none" stroke="#3c930f" stroke-width="1.3"/><rect x="236.67" y="444.30" width="5.4" height="5.4" fill="none" stroke="#3c930f" stroke-width="1.3"/><rect x="246.88" y="460.80" width="5.4" height="5.4" fill="none" stroke="#3c930f" stroke-width="1.3"/><rect x="260.50" y="471.80" width="5.4" height="5.4" fill="none" stroke="#3c930f" stroke-width="1.3"/><rect x="274.12" y="501.30" width="5.4" height="5.4" fill="none" stroke="#3c930f" stroke-width="1.3"/><rect x="287.74" y="532.30" width="5.4" height="5.4" fill="none" stroke="#3c930f" stroke-width="1.3"/><rect x="301.36" y="557.30" width="5.4" height="5.4" fill="none" stroke="#3c930f" stroke-width="1.3"/><rect x="318.39" y="567.30" width="5.4" height="5.4" fill="none" stroke="#3c930f" stroke-width="1.3"/><rect x="345.63" y="577.30" width="5.4" height="5.4" fill="none" stroke="#3c930f" stroke-width="1.3"/><path d="M55.50 403.90 L62.31 388.60 L69.12 400.50 L75.93 392.40 L82.74 400.50 L89.55 400.00 L96.36 389.50 L103.17 399.40 L109.98 389.90 L116.79 395.60 L123.60 388.00 L130.41 393.70 L137.22 387.40 L144.03 398.70 L150.84 387.30 L157.65 405.70 L164.46 400.60 L171.27 388.50 L178.08 410.20 L184.89 403.30 L191.70 405.50 L198.51 402.70 L205.32 416.00 L212.13 415.80 L218.94 424.10 L225.75 421.00 L232.56 424.10 L239.37 426.60 L249.58 445.10 L263.20 452.00 L276.82 481.00 L290.44 452.60 L304.06 500.70 L321.09 520.00 L348.33 560.00" fill="none" stroke="#1a5767" stroke-width="1.4"/><path d="M157.65 401.88V409.70" stroke="#1a5767" stroke-width="1" fill="none"/><path d="M156.05 401.88h3.2M156.05 409.70h3.2" stroke="#1a5767" stroke-width="1" fill="none"/><path d="M164.46 396.78V404.60" stroke="#1a5767" stroke-width="1" fill="none"/><path d="M162.86 396.78h3.2M162.86 404.60h3.2" stroke="#1a5767" stroke-width="1" fill="none"/><path d="M171.27 384.68V392.50" stroke="#1a5767" stroke-width="1" fill="none"/><path d="M169.67 384.68h3.2M169.67 392.50h3.2" stroke="#1a5767" stroke-width="1" fill="none"/><path d="M178.08 406.38V414.20" stroke="#1a5767" stroke-width="1" fill="none"/><path d="M176.48 406.38h3.2M176.48 414.20h3.2" stroke="#1a5767" stroke-width="1" fill="none"/><path d="M184.89 397.42V409.60" stroke="#1a5767" stroke-width="1" fill="none"/><path d="M183.29 397.42h3.2M183.29 409.60h3.2" stroke="#1a5767" stroke-width="1" fill="none"/><path d="M191.70 399.62V411.80" stroke="#1a5767" stroke-width="1" fill="none"/><path d="M190.10 399.62h3.2M190.10 411.80h3.2" stroke="#1a5767" stroke-width="1" fill="none"/><path d="M198.51 396.82V409.00" stroke="#1a5767" stroke-width="1" fill="none"/><path d="M196.91 396.82h3.2M196.91 409.00h3.2" stroke="#1a5767" stroke-width="1" fill="none"/><path d="M205.32 410.12V422.30" stroke="#1a5767" stroke-width="1" fill="none"/><path d="M203.72 410.12h3.2M203.72 422.30h3.2" stroke="#1a5767" stroke-width="1" fill="none"/><path d="M212.13 409.92V422.10" stroke="#1a5767" stroke-width="1" fill="none"/><path d="M210.53 409.92h3.2M210.53 422.10h3.2" stroke="#1a5767" stroke-width="1" fill="none"/><path d="M218.94 418.22V430.40" stroke="#1a5767" stroke-width="1" fill="none"/><path d="M217.34 418.22h3.2M217.34 430.40h3.2" stroke="#1a5767" stroke-width="1" fill="none"/><path d="M225.75 415.12V427.30" stroke="#1a5767" stroke-width="1" fill="none"/><path d="M224.15 415.12h3.2M224.15 427.30h3.2" stroke="#1a5767" stroke-width="1" fill="none"/><path d="M232.56 418.22V430.40" stroke="#1a5767" stroke-width="1" fill="none"/><path d="M230.96 418.22h3.2M230.96 430.40h3.2" stroke="#1a5767" stroke-width="1" fill="none"/><path d="M239.37 420.72V432.90" stroke="#1a5767" stroke-width="1" fill="none"/><path d="M237.77 420.72h3.2M237.77 432.90h3.2" stroke="#1a5767" stroke-width="1" fill="none"/><path d="M249.58 437.22V453.77" stroke="#1a5767" stroke-width="1" fill="none"/><path d="M247.98 437.22h3.2M247.98 453.77h3.2" stroke="#1a5767" stroke-width="1" fill="none"/><path d="M263.20 443.72V461.15" stroke="#1a5767" stroke-width="1" fill="none"/><path d="M261.60 443.72h3.2M261.60 461.15h3.2" stroke="#1a5767" stroke-width="1" fill="none"/><path d="M276.82 471.16V492.10" stroke="#1a5767" stroke-width="1" fill="none"/><path d="M275.22 471.16h3.2M275.22 492.10h3.2" stroke="#1a5767" stroke-width="1" fill="none"/><path d="M290.44 440.46V466.72" stroke="#1a5767" stroke-width="1" fill="none"/><path d="M288.84 440.46h3.2M288.84 466.72h3.2" stroke="#1a5767" stroke-width="1" fill="none"/><path d="M304.06 482.02V524.54" stroke="#1a5767" stroke-width="1" fill="none"/><path d="M302.46 482.02h3.2M302.46 524.54h3.2" stroke="#1a5767" stroke-width="1" fill="none"/><path d="M321.09 502.73V541.58" stroke="#1a5767" stroke-width="1" fill="none"/><path d="M319.49 502.73h3.2M319.49 541.58h3.2" stroke="#1a5767" stroke-width="1" fill="none"/><path d="M348.33 530.77V604.37" stroke="#1a5767" stroke-width="1" fill="none"/><path d="M346.73 530.77h3.2M346.73 604.37h3.2" stroke="#1a5767" stroke-width="1" fill="none"/><path d="M52.50 401.80h6l-3 5.3z" fill="#1a5767"/><path d="M59.31 386.50h6l-3 5.3z" fill="#1a5767"/><path d="M66.12 398.40h6l-3 5.3z" fill="#1a5767"/><path d="M72.93 390.30h6l-3 5.3z" fill="#1a5767"/><path d="M79.74 398.40h6l-3 5.3z" fill="#1a5767"/><path d="M86.55 397.90h6l-3 5.3z" fill="#1a5767"/><path d="M93.36 387.40h6l-3 5.3z" fill="#1a5767"/><path d="M100.17 397.30h6l-3 5.3z" fill="#1a5767"/><path d="M106.98 387.80h6l-3 5.3z" fill="#1a5767"/><path d="M113.79 393.50h6l-3 5.3z" fill="#1a5767"/><path d="M120.60 385.90h6l-3 5.3z" fill="#1a5767"/><path d="M127.41 391.60h6l-3 5.3z" fill="#1a5767"/><path d="M134.22 385.30h6l-3 5.3z" fill="#1a5767"/><path d="M141.03 396.60h6l-3 5.3z" fill="#1a5767"/><path d="M147.84 385.20h6l-3 5.3z" fill="#1a5767"/><path d="M154.65 403.60h6l-3 5.3z" fill="#1a5767"/><path d="M161.46 398.50h6l-3 5.3z" fill="#1a5767"/><path d="M168.27 386.40h6l-3 5.3z" fill="#1a5767"/><path d="M175.08 408.10h6l-3 5.3z" fill="#1a5767"/><path d="M181.89 401.20h6l-3 5.3z" fill="#1a5767"/><path d="M188.70 403.40h6l-3 5.3z" fill="#1a5767"/><path d="M195.51 400.60h6l-3 5.3z" fill="#1a5767"/><path d="M202.32 413.90h6l-3 5.3z" fill="#1a5767"/><path d="M209.13 413.70h6l-3 5.3z" fill="#1a5767"/><path d="M215.94 422.00h6l-3 5.3z" fill="#1a5767"/><path d="M222.75 418.90h6l-3 5.3z" fill="#1a5767"/><path d="M229.56 422.00h6l-3 5.3z" fill="#1a5767"/><path d="M236.37 424.50h6l-3 5.3z" fill="#1a5767"/><path d="M246.58 443.00h6l-3 5.3z" fill="#1a5767"/><path d="M260.20 449.90h6l-3 5.3z" fill="#1a5767"/><path d="M273.82 478.90h6l-3 5.3z" fill="#1a5767"/><path d="M287.44 450.50h6l-3 5.3z" fill="#1a5767"/><path d="M301.06 498.60h6l-3 5.3z" fill="#1a5767"/><path d="M318.09 517.90h6l-3 5.3z" fill="#1a5767"/><path d="M345.33 557.90h6l-3 5.3z" fill="#1a5767"/></g><path d="M48.37 17.50L48.37 21.50M48.37 317.50L48.37 314.50M48.37 317.50L48.37 319.50M48.37 478.00L48.37 475.50M55.50 17.50L55.50 25.50M55.50 317.50L55.50 309.50M55.50 317.50L55.50 323.00M55.50 478.00L55.50 472.50M62.63 17.50L62.63 21.50M62.63 317.50L62.63 314.50M62.63 317.50L62.63 319.50M62.63 478.00L62.63 475.50M69.76 17.50L69.76 21.50M69.76 317.50L69.76 314.50M69.76 317.50L69.76 319.50M69.76 478.00L69.76 475.50M76.89 17.50L76.89 21.50M76.89 317.50L76.89 314.50M76.89 317.50L76.89 319.50M76.89 478.00L76.89 475.50M84.02 17.50L84.02 21.50M84.02 317.50L84.02 314.50M84.02 317.50L84.02 319.50M84.02 478.00L84.02 475.50M91.15 17.50L91.15 21.50M91.15 317.50L91.15 314.50M91.15 317.50L91.15 319.50M91.15 478.00L91.15 475.50M98.28 17.50L98.28 21.50M98.28 317.50L98.28 314.50M98.28 317.50L98.28 319.50M98.28 478.00L98.28 475.50M105.41 17.50L105.41 21.50M105.41 317.50L105.41 314.50M105.41 317.50L105.41 319.50M105.41 478.00L105.41 475.50M112.54 17.50L112.54 21.50M112.54 317.50L112.54 314.50M112.54 317.50L112.54 319.50M112.54 478.00L112.54 475.50M119.67 17.50L119.67 21.50M119.67 317.50L119.67 314.50M119.67 317.50L119.67 319.50M119.67 478.00L119.67 475.50M126.80 17.50L126.80 25.50M126.80 317.50L126.80 309.50M126.80 317.50L126.80 323.00M126.80 478.00L126.80 472.50M133.93 17.50L133.93 21.50M133.93 317.50L133.93 314.50M133.93 317.50L133.93 319.50M133.93 478.00L133.93 475.50M141.06 17.50L141.06 21.50M141.06 317.50L141.06 314.50M141.06 317.50L141.06 319.50M141.06 478.00L141.06 475.50M148.19 17.50L148.19 21.50M148.19 317.50L148.19 314.50M148.19 317.50L148.19 319.50M148.19 478.00L148.19 475.50M155.32 17.50L155.32 21.50M155.32 317.50L155.32 314.50M155.32 317.50L155.32 319.50M155.32 478.00L155.32 475.50M162.45 17.50L162.45 21.50M162.45 317.50L162.45 314.50M162.45 317.50L162.45 319.50M162.45 478.00L162.45 475.50M169.58 17.50L169.58 21.50M169.58 317.50L169.58 314.50M169.58 317.50L169.58 319.50M169.58 478.00L169.58 475.50M176.71 17.50L176.71 21.50M176.71 317.50L176.71 314.50M176.71 317.50L176.71 319.50M176.71 478.00L176.71 475.50M183.84 17.50L183.84 21.50M183.84 317.50L183.84 314.50M183.84 317.50L183.84 319.50M183.84 478.00L183.84 475.50M190.97 17.50L190.97 21.50M190.97 317.50L190.97 314.50M190.97 317.50L190.97 319.50M190.97 478.00L190.97 475.50M198.10 17.50L198.10 25.50M198.10 317.50L198.10 309.50M198.10 317.50L198.10 323.00M198.10 478.00L198.10 472.50M205.23 17.50L205.23 21.50M205.23 317.50L205.23 314.50M205.23 317.50L205.23 319.50M205.23 478.00L205.23 475.50M212.36 17.50L212.36 21.50M212.36 317.50L212.36 314.50M212.36 317.50L212.36 319.50M212.36 478.00L212.36 475.50M219.49 17.50L219.49 21.50M219.49 317.50L219.49 314.50M219.49 317.50L219.49 319.50M219.49 478.00L219.49 475.50M226.62 17.50L226.62 21.50M226.62 317.50L226.62 314.50M226.62 317.50L226.62 319.50M226.62 478.00L226.62 475.50M233.75 17.50L233.75 21.50M233.75 317.50L233.75 314.50M233.75 317.50L233.75 319.50M233.75 478.00L233.75 475.50M240.88 17.50L240.88 21.50M240.88 317.50L240.88 314.50M240.88 317.50L240.88 319.50M240.88 478.00L240.88 475.50M248.01 17.50L248.01 21.50M248.01 317.50L248.01 314.50M248.01 317.50L248.01 319.50M248.01 478.00L248.01 475.50M255.14 17.50L255.14 21.50M255.14 317.50L255.14 314.50M255.14 317.50L255.14 319.50M255.14 478.00L255.14 475.50M262.27 17.50L262.27 21.50M262.27 317.50L262.27 314.50M262.27 317.50L262.27 319.50M262.27 478.00L262.27 475.50M269.40 17.50L269.40 25.50M269.40 317.50L269.40 309.50M269.40 317.50L269.40 323.00M269.40 478.00L269.40 472.50M276.53 17.50L276.53 21.50M276.53 317.50L276.53 314.50M276.53 317.50L276.53 319.50M276.53 478.00L276.53 475.50M283.66 17.50L283.66 21.50M283.66 317.50L283.66 314.50M283.66 317.50L283.66 319.50M283.66 478.00L283.66 475.50M290.79 17.50L290.79 21.50M290.79 317.50L290.79 314.50M290.79 317.50L290.79 319.50M290.79 478.00L290.79 475.50M297.92 17.50L297.92 21.50M297.92 317.50L297.92 314.50M297.92 317.50L297.92 319.50M297.92 478.00L297.92 475.50M305.05 17.50L305.05 21.50M305.05 317.50L305.05 314.50M305.05 317.50L305.05 319.50M305.05 478.00L305.05 475.50M312.18 17.50L312.18 21.50M312.18 317.50L312.18 314.50M312.18 317.50L312.18 319.50M312.18 478.00L312.18 475.50M319.31 17.50L319.31 21.50M319.31 317.50L319.31 314.50M319.31 317.50L319.31 319.50M319.31 478.00L319.31 475.50M326.44 17.50L326.44 21.50M326.44 317.50L326.44 314.50M326.44 317.50L326.44 319.50M326.44 478.00L326.44 475.50M333.57 17.50L333.57 21.50M333.57 317.50L333.57 314.50M333.57 317.50L333.57 319.50M333.57 478.00L333.57 475.50M340.70 17.50L340.70 25.50M340.70 317.50L340.70 309.50M340.70 317.50L340.70 323.00M340.70 478.00L340.70 472.50M347.83 17.50L347.83 21.50M347.83 317.50L347.83 314.50M347.83 317.50L347.83 319.50M347.83 478.00L347.83 475.50M354.96 17.50L354.96 21.50M354.96 317.50L354.96 314.50M354.96 317.50L354.96 319.50M354.96 478.00L354.96 475.50M362.09 17.50L362.09 21.50M362.09 317.50L362.09 314.50M362.09 317.50L362.09 319.50M362.09 478.00L362.09 475.50M369.22 17.50L369.22 21.50M369.22 317.50L369.22 314.50M369.22 317.50L369.22 319.50M369.22 478.00L369.22 475.50M45.50 312.65L51.50 312.65M371.00 312.65L365.00 312.65M45.50 308.66L51.50 308.66M371.00 308.66L365.00 308.66M45.50 305.30L51.50 305.30M371.00 305.30L365.00 305.30M45.50 302.38L51.50 302.38M371.00 302.38L365.00 302.38M45.50 299.80L51.50 299.80M371.00 299.80L365.00 299.80M45.50 297.50L56.50 297.50M371.00 297.50L360.00 297.50M45.50 282.35L51.50 282.35M371.00 282.35L365.00 282.35M45.50 273.49L51.50 273.49M371.00 273.49L365.00 273.49M45.50 267.20L51.50 267.20M371.00 267.20L365.00 267.20M45.50 262.32L51.50 262.32M371.00 262.32L365.00 262.32M45.50 258.34L51.50 258.34M371.00 258.34L365.00 258.34M45.50 254.97L51.50 254.97M371.00 254.97L365.00 254.97M45.50 252.05L51.50 252.05M371.00 252.05L365.00 252.05M45.50 249.48L51.50 249.48M371.00 249.48L365.00 249.48M45.50 247.18L56.50 247.18M371.00 247.18L360.00 247.18M45.50 232.03L51.50 232.03M371.00 232.03L365.00 232.03M45.50 223.16L51.50 223.16M371.00 223.16L365.00 223.16M45.50 216.88L51.50 216.88M371.00 216.88L365.00 216.88M45.50 212.00L51.50 212.00M371.00 212.00L365.00 212.00M45.50 208.01L51.50 208.01M371.00 208.01L365.00 208.01M45.50 204.65L51.50 204.65M371.00 204.65L365.00 204.65M45.50 201.73L51.50 201.73M371.00 201.73L365.00 201.73M45.50 199.15L51.50 199.15M371.00 199.15L365.00 199.15M45.50 196.85L56.50 196.85M371.00 196.85L360.00 196.85M45.50 181.70L51.50 181.70M371.00 181.70L365.00 181.70M45.50 172.84L51.50 172.84M371.00 172.84L365.00 172.84M45.50 166.55L51.50 166.55M371.00 166.55L365.00 166.55M45.50 161.67L51.50 161.67M371.00 161.67L365.00 161.67M45.50 157.69L51.50 157.69M371.00 157.69L365.00 157.69M45.50 154.32L51.50 154.32M371.00 154.32L365.00 154.32M45.50 151.40L51.50 151.40M371.00 151.40L365.00 151.40M45.50 148.83L51.50 148.83M371.00 148.83L365.00 148.83M45.50 146.53L56.50 146.53M371.00 146.53L360.00 146.53M45.50 131.38L51.50 131.38M371.00 131.38L365.00 131.38M45.50 122.51L51.50 122.51M371.00 122.51L365.00 122.51M45.50 116.23L51.50 116.23M371.00 116.23L365.00 116.23M45.50 111.35L51.50 111.35M371.00 111.35L365.00 111.35M45.50 107.36L51.50 107.36M371.00 107.36L365.00 107.36M45.50 104.00L51.50 104.00M371.00 104.00L365.00 104.00M45.50 101.08L51.50 101.08M371.00 101.08L365.00 101.08M45.50 98.50L51.50 98.50M371.00 98.50L365.00 98.50M45.50 96.20L56.50 96.20M371.00 96.20L360.00 96.20M45.50 81.05L51.50 81.05M371.00 81.05L365.00 81.05M45.50 72.19L51.50 72.19M371.00 72.19L365.00 72.19M45.50 65.90L51.50 65.90M371.00 65.90L365.00 65.90M45.50 61.02L51.50 61.02M371.00 61.02L365.00 61.02M45.50 57.04L51.50 57.04M371.00 57.04L365.00 57.04M45.50 53.67L51.50 53.67M371.00 53.67L365.00 53.67M45.50 50.75L51.50 50.75M371.00 50.75L365.00 50.75M45.50 48.18L51.50 48.18M371.00 48.18L365.00 48.18M45.50 45.88L56.50 45.88M371.00 45.88L360.00 45.88M45.50 30.73L51.50 30.73M371.00 30.73L365.00 30.73M45.50 21.86L51.50 21.86M371.00 21.86L365.00 21.86M45.50 477.09L51.00 477.09M371.00 477.09L365.50 477.09M45.50 457.71L53.50 457.71M371.00 457.71L363.00 457.71M45.50 441.87L51.00 441.87M371.00 441.87L365.50 441.87M45.50 428.48L51.00 428.48M371.00 428.48L365.50 428.48M45.50 416.88L51.00 416.88M371.00 416.88L365.50 416.88M45.50 406.65L51.00 406.65M371.00 406.65L365.50 406.65M45.50 397.50L53.50 397.50M371.00 397.50L363.00 397.50M45.50 389.22L51.00 389.22M371.00 389.22L365.50 389.22M45.50 381.66L51.00 381.66M371.00 381.66L365.50 381.66M45.50 374.71L51.00 374.71M371.00 374.71L365.50 374.71M45.50 368.27L51.00 368.27M371.00 368.27L365.50 368.27M45.50 362.28L51.00 362.28M371.00 362.28L365.50 362.28M45.50 356.68L51.00 356.68M371.00 356.68L365.50 356.68M45.50 351.41L51.00 351.41M371.00 351.41L365.50 351.41M45.50 346.45L51.00 346.45M371.00 346.45L365.50 346.45M45.50 341.75L51.00 341.75M371.00 341.75L365.50 341.75M45.50 337.29L53.50 337.29M371.00 337.29L363.00 337.29M45.50 333.06L51.00 333.06M371.00 333.06L365.50 333.06M45.50 329.02L51.00 329.02M371.00 329.02L365.50 329.02M45.50 325.15L51.00 325.15M371.00 325.15L365.50 325.15M45.50 321.46L51.00 321.46M371.00 321.46L365.50 321.46M45.50 317.91L51.00 317.91M371.00 317.91L365.50 317.91" stroke="#000" stroke-width="1" fill="none"/><rect x="45.5" y="17.5" width="325.5" height="460.5" fill="none" stroke="#000" stroke-width="1.2"/><line x1="45.5" y1="317.5" x2="371.0" y2="317.5" stroke="#000" stroke-width="1.2"/><rect x="73.60" y="231.00" width="5.8" height="5.8" fill="#000"/><path d="M64 247H88.6" stroke="#ad570c" stroke-opacity="0.75" stroke-width="1" stroke-dasharray="2.5 1.9"/><circle cx="76.5" cy="246.8" r="3.2" fill="#fff"/><circle cx="76.5" cy="246.8" r="2.6" fill="none" stroke="#ad570c" stroke-width="1.05"/><path d="M64 259.8H88.6" stroke="#3c930f" stroke-opacity="0.75" stroke-width="1" stroke-dasharray="2.5 1.9"/><rect x="73.3" y="256.6" width="6.4" height="6.4" fill="#fff"/><rect x="73.8" y="257.1" width="5.4" height="5.4" fill="none" stroke="#3c930f" stroke-width="1.05"/><path d="M64 272.4H88.6" stroke="#1a5767" stroke-opacity="0.6" stroke-width="1.1"/><path d="M73.4 270h6.2l-3.1 5.3z" fill="#1a5767"/><g fill="#000" font-size="12">
<text x="51" y="13.9">13000 GeV pp</text>
<text x="366.5" y="13.9" text-anchor="end">Z (Drell-Yan)</text>
<text x="80.8" y="42.3">Transverse region, 0 &lt; p</text>
<text x="207.6" y="36.3" font-size="8.4">Z</text>
<text x="207.8" y="48.4" font-size="7.2">T</text>
<text x="217" y="42.3">&lt; 10 [GeV], high thrust</text>
</g>
<g font-size="11" text-anchor="end">
<text x="39.6" y="50">10</text>
<text x="39.6" y="100.2">1</text>
<text x="31.7" y="152.0">10</text><text x="40" y="147.5" font-size="8">−1</text>
<text x="31.7" y="202.4">10</text><text x="40" y="197.9" font-size="8">−2</text>
<text x="31.7" y="252.8">10</text><text x="40" y="248.3" font-size="8">−3</text>
<text x="31.7" y="303.2">10</text><text x="40" y="298.7" font-size="8">−4</text>
<text x="38.6" y="340.6" font-size="11.5">2</text>
<text x="38.6" y="401.7" font-size="11.5">1</text>
<text x="38.6" y="462" font-size="11.5">0.5</text>
</g>
<g font-size="10.5" text-anchor="middle">
<text x="55.5" y="489.2">0</text>
<text x="126.8" y="489.2">1</text>
<text x="198.1" y="489.2">2</text>
<text x="269.4" y="489.2">3</text>
<text x="340.7" y="489.2">4</text>
</g>
<text x="368.6" y="502.2" font-size="11.5" text-anchor="end">N<tspan font-size="8" dy="4.5">ch</tspan><tspan dy="-4.5">/dη dϕ</tspan></text>
<g transform="translate(14.5,0) rotate(-90)" font-size="11.5">
<text x="-132.3">1/N</text>
<text x="-113.9" y="4" font-size="7.5">ev</text>
<text x="-103.3">dN</text>
<text x="-87" y="4" font-size="7.5">ev</text>
<text x="-79.6">/dN</text>
<text x="-61.3" y="4" font-size="7.5">ch</text>
<text x="-53.6">/</text><text x="-48.6" font-size="11">dη dϕ</text>
</g>
<text transform="translate(17.8,397.5) rotate(-90)" font-size="9" text-anchor="middle">Ratio to ATLAS</text>
<text transform="translate(379.8,127.3) rotate(-90)" font-size="9.5" fill="#777">Rivet 4.1.0, ≥ 3.1M events</text>
<text transform="translate(380.2,313.5) rotate(-90)" font-size="9.3" fill="#777">mcplots.cern.ch [arXiv:2401.10621]</text>
<text x="162.3" y="302.2" font-size="8" fill="#8a8a8a">(ATLAS_2019_I1736531)</text>
<g font-size="9.6" transform="translate(94.4,0) scale(0.974,1)">
<text x="0" y="237.3">ATLAS</text>
<text x="0" y="250">Herwig++ 2.7.1 default</text>
<text x="0" y="262.7">Herwig 7.2.1 default</text>
<text x="0" y="275.4">Herwig 7.2.1 softTune</text>
</g>
</svg></body></html>
